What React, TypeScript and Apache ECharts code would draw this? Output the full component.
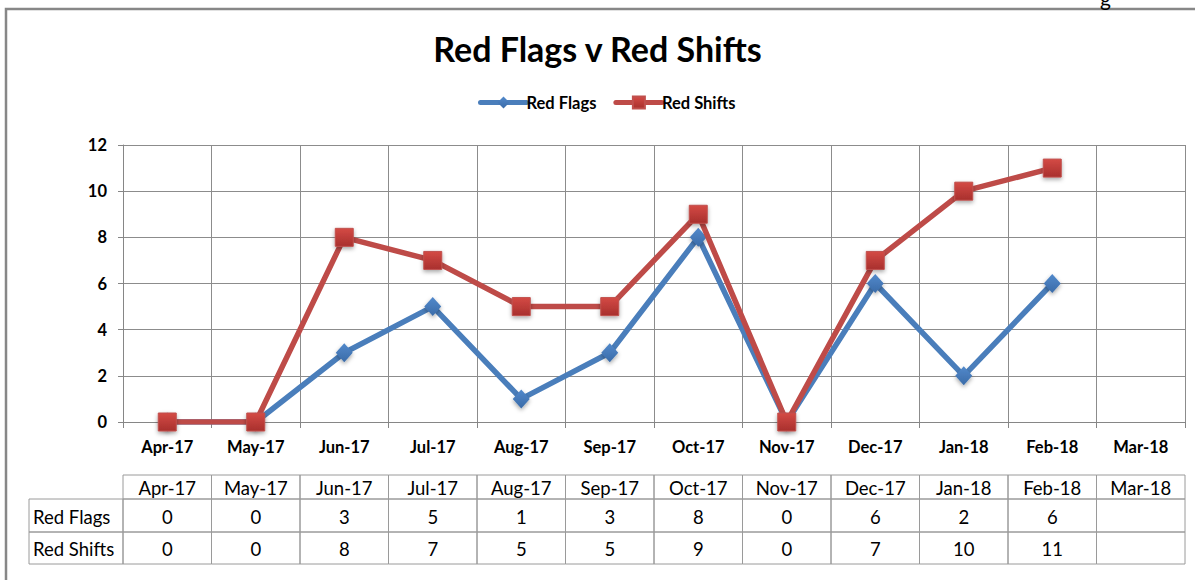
import React, { useEffect, useRef } from "react";
import * as echarts from "echarts";

const categories = ["Apr-17", "May-17", "Jun-17", "Jul-17", "Aug-17", "Sep-17", "Oct-17", "Nov-17", "Dec-17", "Jan-18", "Feb-18", "Mar-18"];
const redFlags: (number | null)[] = [0, 0, 3, 5, 1, 3, 8, 0, 6, 2, 6, null];
const redShifts: (number | null)[] = [0, 0, 8, 7, 5, 5, 9, 0, 7, 10, 11, null];
const yTicks = { min: 0, max: 12, interval: 2 };

const FONT = "Lato, 'Open Sans', sans-serif";
const GRID = { left: 123, top: 145, width: 1062, height: 277 };
const BLUE = "#4A7EBB";
const RED = "#BE4B48";

export default function App() {
  const ref = useRef<HTMLDivElement>(null);
  useEffect(() => {
    document.body.style.margin = "0";
    const chart = echarts.init(ref.current!, null, { renderer: "svg" });
    const n = categories.length;
    const cw = GRID.width / n;
    const colX = (i: number) => GRID.left + i * cw;
    const rowTop = [475, 499, 532, 564];
    const labelLeft = 29;
    const gridColor = "#9a9a9a";
    const tableFont = "18.5px " + FONT;
    const graphics: any[] = [];
    // outer border
    graphics.push({ type: "rect", shape: { x: 6, y: 9, width: 1220, height: 620 }, style: { fill: "none", stroke: "#878787", lineWidth: 2.5 }, silent: true });
    graphics.push({ type: "text", x: 1100, y: -13, style: { text: "g", font: "21px " + FONT, fill: "#000" } });
    // table header
    categories.forEach((c, i) => {
      graphics.push({ type: "rect", shape: { x: colX(i), y: rowTop[0], width: cw, height: rowTop[1] - rowTop[0] }, style: { fill: "none", stroke: gridColor, lineWidth: 1 } });
      graphics.push({ type: "text", x: colX(i) + cw / 2, y: (rowTop[0] + rowTop[1]) / 2 + 1, style: { text: c, font: tableFont, fill: "#000", align: "center", verticalAlign: "middle" } });
    });
    const rows: [string, (number | null)[]][] = [["Red Flags", redFlags], ["Red Shifts", redShifts]];
    rows.forEach(([name, vals], r) => {
      const y0 = rowTop[r + 1];
      const y1 = rowTop[r + 2];
      graphics.push({ type: "rect", shape: { x: labelLeft, y: y0, width: GRID.left - labelLeft, height: y1 - y0 }, style: { fill: "none", stroke: gridColor, lineWidth: 1 } });
      graphics.push({ type: "text", x: labelLeft + 4, y: (y0 + y1) / 2 + 1, style: { text: name, font: tableFont, fill: "#000", align: "left", verticalAlign: "middle" } });
      vals.forEach((v, i) => {
        graphics.push({ type: "rect", shape: { x: colX(i), y: y0, width: cw, height: y1 - y0 }, style: { fill: "none", stroke: gridColor, lineWidth: 1 } });
        if (v !== null) {
          graphics.push({ type: "text", x: colX(i) + cw / 2, y: (y0 + y1) / 2 + 1, style: { text: String(v), font: tableFont, fill: "#000", align: "center", verticalAlign: "middle" } });
        }
      });
    });

    const shadow = { shadowBlur: 4, shadowColor: "rgba(0,0,0,0.35)", shadowOffsetY: 2 };
    chart.setOption({
      animation: false,
      backgroundColor: "#fff",
      title: {
        text: "Red Flags v Red Shifts",
        left: "center",
        top: 26,
        textStyle: { fontFamily: FONT, fontWeight: "bold", fontSize: 34, color: "#000" },
      },
      legend: {
        top: 89,
        left: 473,
        itemWidth: 46,
        itemHeight: 15,
        itemGap: 17,
        textStyle: { fontFamily: FONT, fontWeight: "bold", fontSize: 16.5, color: "#000", padding: [0, 0, 0, -5] },
        lineStyle: { width: 5, cap: "round" },
        data: ["Red Flags", "Red Shifts"],
      },
      grid: { left: GRID.left, top: GRID.top, width: GRID.width, height: GRID.height },
      xAxis: {
        type: "category",
        data: categories,
        boundaryGap: true,
        axisLine: { lineStyle: { color: "#868686", width: 1 } },
        axisTick: { show: true, length: 6, lineStyle: { color: "#868686" } },
        axisLabel: { margin: 16, fontFamily: FONT, fontWeight: "bold", fontSize: 16.5, color: "#000", interval: 0 },
        splitLine: { show: true, interval: 0, lineStyle: { color: "#8c8c8c", width: 1 } },
      },
      yAxis: {
        type: "value",
        min: yTicks.min,
        max: yTicks.max,
        interval: yTicks.interval,
        axisLine: { show: true, lineStyle: { color: "#868686", width: 1 } },
        axisTick: { show: true, length: 5, lineStyle: { color: "#868686" } },
        axisLabel: { margin: 16, fontFamily: FONT, fontWeight: "bold", fontSize: 16.5, color: "#000" },
        splitLine: { show: true, lineStyle: { color: "#8c8c8c", width: 1 } },
      },
      series: [
        {
          name: "Red Flags",
          type: "line",
          data: redFlags,
          symbol: "diamond",
          symbolSize: [17, 19],
          lineStyle: { color: BLUE, width: 5.5 },
          itemStyle: {
            color: new echarts.graphic.LinearGradient(0, 0, 0, 1, [
              { offset: 0, color: "#5289CB" },
              { offset: 1, color: "#3A6BA8" },
            ]),
            ...shadow,
          },
          z: 2,
        },
        {
          name: "Red Shifts",
          type: "line",
          data: redShifts,
          symbol: "rect",
          symbolSize: 18,
          lineStyle: { color: RED, width: 5.5 },
          itemStyle: {
            color: new echarts.graphic.LinearGradient(0, 0, 0, 1, [
              { offset: 0, color: "#D44A45" },
              { offset: 1, color: "#A8302D" },
            ]),
            borderColor: "#C0504D",
            borderWidth: 1,
            ...shadow,
          },
          z: 3,
        },
      ],
      graphic: graphics,
    });
    return () => chart.dispose();
  }, []);
  return <div ref={ref} style={{ width: 1195, height: 580 }} />;
}
